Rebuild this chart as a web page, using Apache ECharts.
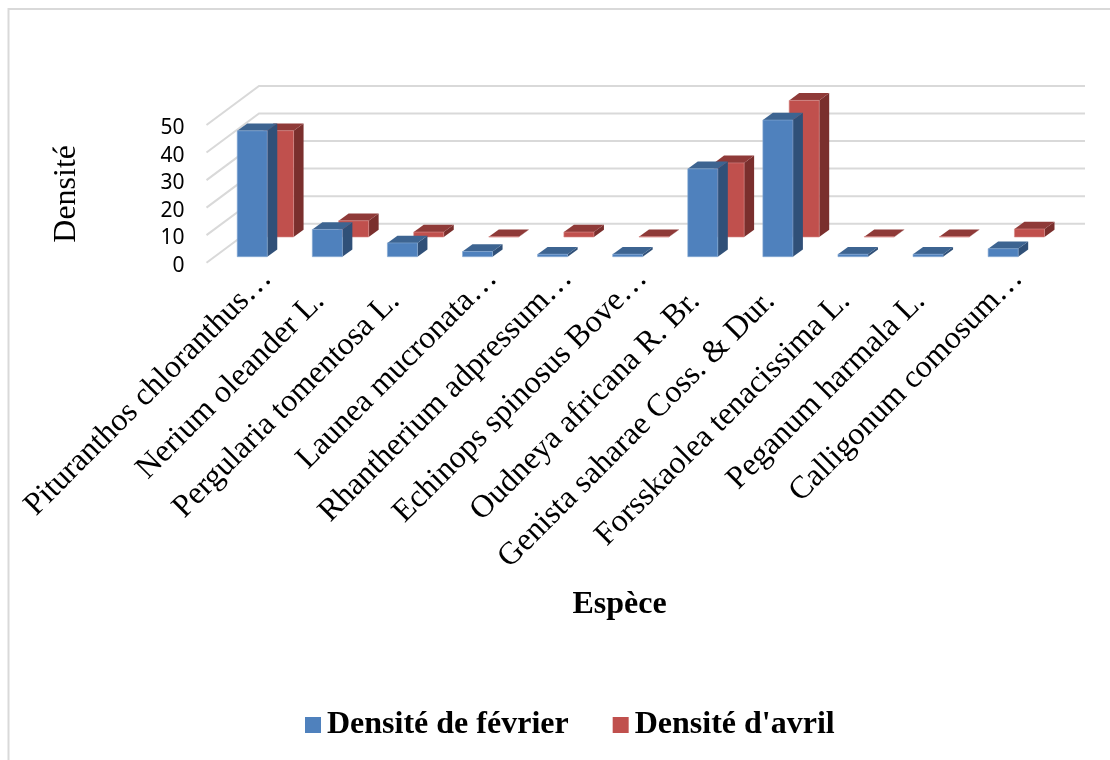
<!DOCTYPE html>
<html lang="fr">
<head>
<meta charset="utf-8">
<title>Densité par espèce</title>
<style>
  html, body { margin: 0; padding: 0; background: #fff; }
  #chart { width: 1110px; height: 760px; }
</style>
<script src="https://cdn.jsdelivr.net/npm/echarts@6/dist/echarts.min.js"></script>
</head>
<body>
<div id="chart"></div>
<script>
// Species along the horizontal axis
const especes = [
  'Pituranthos chloranthus…', 'Nerium oleander L.', 'Pergularia tomentosa L.',
  'Launea mucronata…', 'Rhantherium adpressum…', 'Echinops spinosus Bove…',
  'Oudneya africana R. Br.', 'Genista saharae Coss. & Dur.',
  'Forsskaolea tenacissima L.', 'Peganum harmala L.', 'Calligonum comosum…'
];
// Density readings per species
const densiteFevrier = [45.7, 9.9, 5, 1.9, 0.9, 0.9, 31.9, 49.6, 0.9, 0.9, 2.9];
const densiteAvril = [38.6, 5.9, 1.8, 0.1, 1.8, 0.1, 26.9, 49.6, 0.1, 0.1, 2.9];
const graduations = [0, 10, 20, 30, 40, 50];

const SERIF = '"Liberation Serif", "Times New Roman", serif';
const GRID_LEFT = 206.5, GRID_WIDTH = 826, GRID_TOP = 125, GRID_HEIGHT = 137.7;
// Oblique depth of the floor, in pixels
const DEPTH = { x: 52.5, y: -39 };
// Depth of one bar, in pixels
const BAR_DEPTH = { x: 10, y: -7.3 };

// Builds a box from the scaled value: front face, top face and right face
function boxRenderer(offset, colors) {
  return function (params, api) {
    const i = api.value(0), v = api.value(1);
    const base = api.coord([i, 0]), top = api.coord([i, v]);
    const w = api.size([1, 0])[0] * 0.4;
    const x0 = base[0] + offset.x - w / 2, x1 = x0 + w;
    const y0 = base[1] + offset.y, y1 = top[1] + offset.y;
    const dx = BAR_DEPTH.x, dy = BAR_DEPTH.y;
    const face = (points, style) => ({
      type: 'polygon', shape: { points: points }, style: style
    });
    return {
      type: 'group',
      children: [
        face([[x1, y0], [x1 + dx, y0 + dy], [x1 + dx, y1 + dy], [x1, y1]], { fill: colors.side }),
        face([[x0, y1], [x1, y1], [x1 + dx, y1 + dy], [x0 + dx, y1 + dy]], { fill: colors.top }),
        face([[x0, y0], [x1, y0], [x1, y1], [x0, y1]], { fill: colors.front, stroke: colors.edge, lineWidth: 0.6 })
      ]
    };
  };
}

// Gridline running over the left wall and along the back wall
function wallRenderer(params, api) {
  const v = api.value(1);
  const left = api.coord([0, v]);
  const x = params.coordSys.x, w = params.coordSys.width;
  return {
    type: 'polyline',
    shape: { points: [[x, left[1]], [x + DEPTH.x, left[1] + DEPTH.y], [x + DEPTH.x + w, left[1] + DEPTH.y]] },
    style: { stroke: '#d9d9d9', lineWidth: 2, fill: 'none' }
  };
}

const BLUE = { front: '#4f81bd', top: '#3d6491', side: '#305078', edge: '#86a9d3' };
const RED = { front: '#c0504d', top: '#8f3a38', side: '#7a2f2d', edge: '#d78a88' };

const chart = echarts.init(document.getElementById('chart'), null, { renderer: 'canvas' });
chart.setOption({
  animation: false,
  backgroundColor: '#fff',
  graphic: [
    { type: 'polyline', silent: true, z: 0,
      shape: { points: [[8.5, 762], [8.5, 9], [1112, 9]] },
      style: { stroke: '#d9d9d9', lineWidth: 2, fill: 'none' } }
  ],
  legend: {
    left: 305, top: 709, padding: 0, itemWidth: 16, itemHeight: 16, itemGap: 44,
    icon: 'rect', selectedMode: false,
    data: ['Densité de février', "Densité d'avril"],
    textStyle: { fontFamily: SERIF, fontWeight: 'bold', fontSize: 32, color: '#000', padding: [0, 0, 0, 1] }
  },
  grid: [
    { left: GRID_LEFT, width: GRID_WIDTH, top: GRID_TOP, height: GRID_HEIGHT },
    // Companion grid that only carries the slanted species labels
    { left: GRID_LEFT + 23, width: GRID_WIDTH, top: GRID_TOP, height: GRID_HEIGHT }
  ],
  xAxis: [
    {
      type: 'category', gridIndex: 0, data: especes,
      axisLine: { show: false }, axisTick: { show: false }, axisLabel: { show: false },
      name: 'Espèce', nameLocation: 'middle', nameGap: 326,
      nameTextStyle: { fontFamily: SERIF, fontWeight: 'bold', fontSize: 32, color: '#000' }
    },
    {
      type: 'category', gridIndex: 1, data: especes,
      axisLine: { show: false }, axisTick: { show: false },
      axisLabel: {
        interval: 0, rotate: 45, margin: 11, color: '#000',
        fontFamily: SERIF, fontSize: 32,
        hideOverlap: false,
        formatter: (name) => name.endsWith('…') ? '{a|' + name + '}' : '{b|' + name + '}',
        rich: {
          a: { fontFamily: SERIF, fontSize: 32, color: '#000' },
          b: { fontFamily: SERIF, fontSize: 32, color: '#000', padding: [0, 32, 0, 0] }
        }
      }
    }
  ],
  yAxis: [
    {
      type: 'value', gridIndex: 0, min: 0, max: 50, interval: 10,
      axisLine: { show: false }, axisTick: { show: false }, splitLine: { show: false },
      axisLabel: {
        margin: 22,
        formatter: (v) => '{t|' + v + '}',
        rich: { t: { fontFamily: '"Noto Sans", sans-serif', fontSize: 21, color: '#000', padding: [6, 0, 0, 0] } }
      },
      name: 'Densité', nameLocation: 'middle', nameGap: 124,
      nameTextStyle: { fontFamily: SERIF, fontSize: 32, color: '#000' }
    },
    {
      type: 'value', gridIndex: 1, min: 0, max: 50, interval: 10,
      axisLine: { show: false }, axisTick: { show: false }, splitLine: { show: false },
      axisLabel: { show: false }
    }
  ],
  series: [
    {
      type: 'custom', name: 'Grille', silent: true, xAxisIndex: 0, yAxisIndex: 0,
      data: graduations.map((g) => [0, g]), encode: { x: 0, y: 1 },
      renderItem: wallRenderer
    },
    {
      type: 'custom', name: "Densité d'avril", xAxisIndex: 0, yAxisIndex: 0,
      itemStyle: { color: RED.front },
      data: densiteAvril.map((v, i) => [i, v]), encode: { x: 0, y: 1 },
      renderItem: boxRenderer({ x: 34.5, y: -25.7 }, RED)
    },
    {
      type: 'custom', name: 'Densité de février', xAxisIndex: 0, yAxisIndex: 0,
      itemStyle: { color: BLUE.front },
      data: densiteFevrier.map((v, i) => [i, v]), encode: { x: 0, y: 1 },
      renderItem: boxRenderer({ x: 8.2, y: -6 }, BLUE)
    }
  ]
});
</script>
</body>
</html>
